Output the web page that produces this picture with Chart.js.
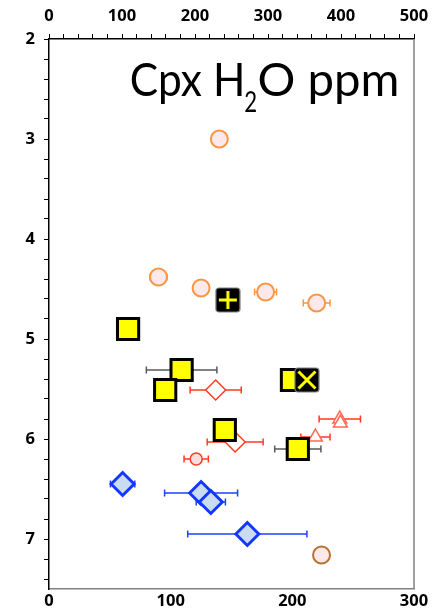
<!DOCTYPE html>
<html>
<head>
<meta charset="utf-8">
<script src="https://cdn.jsdelivr.net/npm/chart.js@4.4.1/dist/chart.umd.min.js"></script>
<style>
  html, body { margin: 0; padding: 0; background: #fff; }
  #wrap { width: 438px; height: 613px; }
</style>
</head>
<body>
<div id="wrap"><canvas id="cpxChart" width="438" height="613"></canvas></div>
<script>
// Cpx H2O (ppm) against depth-like index, one array set per symbol group
const orangeX = [140, 90, 125, 178, 220];
const orangeY = [3.0, 4.38, 4.49, 4.53, 4.64];
const orangeErr = [0, 7, 0, 9, 11];

const brownX = [224];
const brownY = [7.16];

const redCircleX = [121];
const redCircleY = [6.2];
const redCircleErr = [10];

const redDiamondX = [137, 153];
const redDiamondY = [5.51, 6.03];
const redDiamondErr = [21, 23];

const redTriangleX = [239, 239.5, 219];
const redTriangleY = [5.8, 5.84, 5.98];
const redTriangleErr = [17, 0, 12];

const blueX = [60.5, 125, 133, 163];
const blueY = [6.45, 6.54, 6.63, 6.95];
const blueErr = [10, 30, 12, 49];

const yellowX = [65, 109, 95.5, 144.5, 199.7, 204.5];
const yellowY = [4.9, 5.31, 5.51, 5.91, 5.41, 6.1];
const yellowErr = [0, 29, 0, 0, 0, 19];

const plusX = [147];
const plusY = [4.61];
const crossX = [212];
const crossY = [5.41];

const bottomTicks = [0, 100, 200, 300];
const topTicks = [0, 100, 200, 300, 400, 500];
const depthTicks = [2, 3, 4, 5, 6, 7];

const pts = (xs, ys) => xs.map((x, i) => ({ x: x, y: ys[i] }));

// black tile with a yellow plus or cross
function badge(kind) {
  const c = document.createElement('canvas');
  c.width = 26; c.height = 26;
  const g = c.getContext('2d');
  g.fillStyle = '#000';
  g.strokeStyle = '#808080';
  g.lineWidth = 1.2;
  g.beginPath();
  g.moveTo(4, 1); g.lineTo(22, 1); g.arcTo(25, 1, 25, 4, 3);
  g.lineTo(25, 22); g.arcTo(25, 25, 22, 25, 3);
  g.lineTo(4, 25); g.arcTo(1, 25, 1, 22, 3);
  g.lineTo(1, 4); g.arcTo(1, 1, 4, 1, 3);
  g.closePath();
  g.fill(); g.stroke();
  g.strokeStyle = '#ffff00';
  g.lineWidth = 3;
  g.beginPath();
  if (kind === 'plus') {
    g.moveTo(13, 4); g.lineTo(13, 22);
    g.moveTo(4, 13); g.lineTo(22, 13);
  } else {
    g.moveTo(4.5, 4.5); g.lineTo(21.5, 21.5);
    g.moveTo(21.5, 4.5); g.lineTo(4.5, 21.5);
  }
  g.stroke();
  return c;
}

// horizontal error bars with end caps, drawn under the markers
const errorBars = {
  id: 'errorBars',
  beforeDatasetsDraw(chart) {
    const ctx = chart.ctx;
    chart.data.datasets.forEach((ds, i) => {
      if (!ds.xErr) return;
      const meta = chart.getDatasetMeta(i);
      const xs = chart.scales[meta.xAxisID];
      const ys = chart.scales[meta.yAxisID];
      ctx.save();
      ctx.strokeStyle = ds.errColor;
      ctx.lineWidth = 1.5;
      ds.data.forEach((p, j) => {
        const e = ds.xErr[j];
        if (!e) return;
        const y = ys.getPixelForValue(p.y);
        const x0 = xs.getPixelForValue(p.x - e);
        const x1 = xs.getPixelForValue(p.x + e);
        ctx.beginPath();
        ctx.moveTo(x0, y); ctx.lineTo(x1, y);
        ctx.moveTo(x0, y - 3.5); ctx.lineTo(x0, y + 3.5);
        ctx.moveTo(x1, y - 3.5); ctx.lineTo(x1, y + 3.5);
        ctx.stroke();
      });
      ctx.restore();
    });
  }
};

// draw text so its ink runs from left to right at the given baseline
function fitText(ctx, text, size, left, right, base) {
  ctx.font = size + 'px Lato';
  const m = ctx.measureText(text);
  const ink = m.actualBoundingBoxLeft + m.actualBoundingBoxRight;
  ctx.save();
  ctx.translate(left, base);
  ctx.scale((right - left) / ink, 1);
  ctx.fillText(text, m.actualBoundingBoxLeft, 0);
  ctx.restore();
}

// right frame line and the title with its subscript
const frame = {
  id: 'frame',
  afterDraw(chart) {
    const ctx = chart.ctx;
    const a = chart.chartArea;
    ctx.save();
    ctx.strokeStyle = '#808080';
    ctx.lineWidth = 1.5;
    ctx.beginPath();
    ctx.moveTo(a.right, a.top);
    ctx.lineTo(a.right, a.bottom);
    ctx.stroke();

    ctx.fillStyle = '#000';
    ctx.textBaseline = 'alphabetic';
    ctx.textAlign = 'left';
    fitText(ctx, 'Cpx H', 46, 131.5, 241.5, 96);
    fitText(ctx, '2', 29, 245, 256.5, 112);
    fitText(ctx, 'O ppm', 46, 259.5, 396.5, 96);
    ctx.restore();
  }
};

const tickFont = { family: 'Open Sans', size: 16.5, weight: 'bold' };
const isWhole = v => Math.abs(v - Math.round(v)) < 1e-6;

new Chart(document.getElementById('cpxChart'), {
  type: 'scatter',
  data: {
    datasets: [
      {
        data: pts(plusX, plusY), pointStyle: badge('plus'), order: 0
      },
      {
        data: pts(crossX, crossY), pointStyle: badge('cross'), order: 0
      },
      {
        data: pts(yellowX, yellowY), xErr: yellowErr, errColor: '#595959',
        pointStyle: 'rect', pointRadius: 15, borderWidth: 3,
        borderColor: '#000', backgroundColor: '#ffff00', order: 1
      },
      {
        data: pts(blueX, blueY), xErr: blueErr, errColor: '#1e40ff',
        pointStyle: 'rectRot', pointRadius: 11.5, borderWidth: 3,
        borderColor: '#1437ff', backgroundColor: '#c9dcf1', order: 2
      },
      {
        data: pts(redDiamondX, redDiamondY), xErr: redDiamondErr, errColor: '#ff3b1f',
        pointStyle: 'rectRot', pointRadius: 10, borderWidth: 1.5,
        borderColor: '#ff3b1f', backgroundColor: '#ffffff', order: 3
      },
      {
        data: pts(redTriangleX, redTriangleY), xErr: redTriangleErr, errColor: '#ff3b1f',
        pointStyle: 'triangle', pointRadius: 8, borderWidth: 1.5,
        borderColor: '#ff6a55', backgroundColor: '#ffffff', order: 3
      },
      {
        data: pts(redCircleX, redCircleY), xErr: redCircleErr, errColor: '#ff3b1f',
        pointStyle: 'circle', pointRadius: 6, borderWidth: 1.5,
        borderColor: '#ff3b1f', backgroundColor: '#f7dede', order: 3
      },
      {
        data: pts(orangeX, orangeY), xErr: orangeErr, errColor: '#f79646',
        pointStyle: 'circle', pointRadius: 8.5, borderWidth: 2,
        borderColor: '#f79646', backgroundColor: '#fde9e9', order: 4
      },
      {
        data: pts(brownX, brownY),
        pointStyle: 'circle', pointRadius: 8.5, borderWidth: 2,
        borderColor: '#b8732e', backgroundColor: '#fde9e9', order: 4
      }
    ]
  },
  options: {
    responsive: false,
    animation: false,
    events: [],
    layout: { padding: { left: 0, right: 24, top: 0, bottom: 0 } },
    plugins: { legend: { display: false }, tooltip: { enabled: false } },
    scales: {
      x: {
        type: 'linear', position: 'bottom', min: 0, max: 300,
        afterBuildTicks: s => { s.ticks = bottomTicks.map(v => ({ value: v })); },
        ticks: { font: tickFont, color: '#000', padding: 2, maxRotation: 0 },
        grid: { drawOnChartArea: false, drawTicks: false },
        border: { color: '#808080', width: 1.5 },
        afterFit: s => { s.height = 24; }
      },
      x2: {
        type: 'linear', position: 'top', min: 0, max: 500,
        ticks: {
          stepSize: 20, autoSkip: false, maxRotation: 0, font: tickFont, color: '#000', padding: 8,
          callback: v => (topTicks.includes(v) ? v : '')
        },
        grid: { drawOnChartArea: false, tickLength: 5, color: '#000', tickWidth: 1 },
        border: { color: '#000', width: 1.5 },
        afterFit: s => { s.height = 39; }
      },
      y: {
        type: 'linear', min: 2, max: 7.5, reverse: true,
        ticks: {
          stepSize: 0.2, autoSkip: false, includeBounds: false, font: tickFont, color: '#000', padding: 9,
          callback: v => (isWhole(v) && depthTicks.includes(Math.round(v)) ? Math.round(v) : '')
        },
        grid: { drawOnChartArea: false, tickLength: 5, color: '#000', tickWidth: 1 },
        border: { color: '#000', width: 1.5 },
        afterFit: s => { s.width = 49; }
      }
    }
  },
  plugins: [errorBars, frame]
});
</script>
</body>
</html>
